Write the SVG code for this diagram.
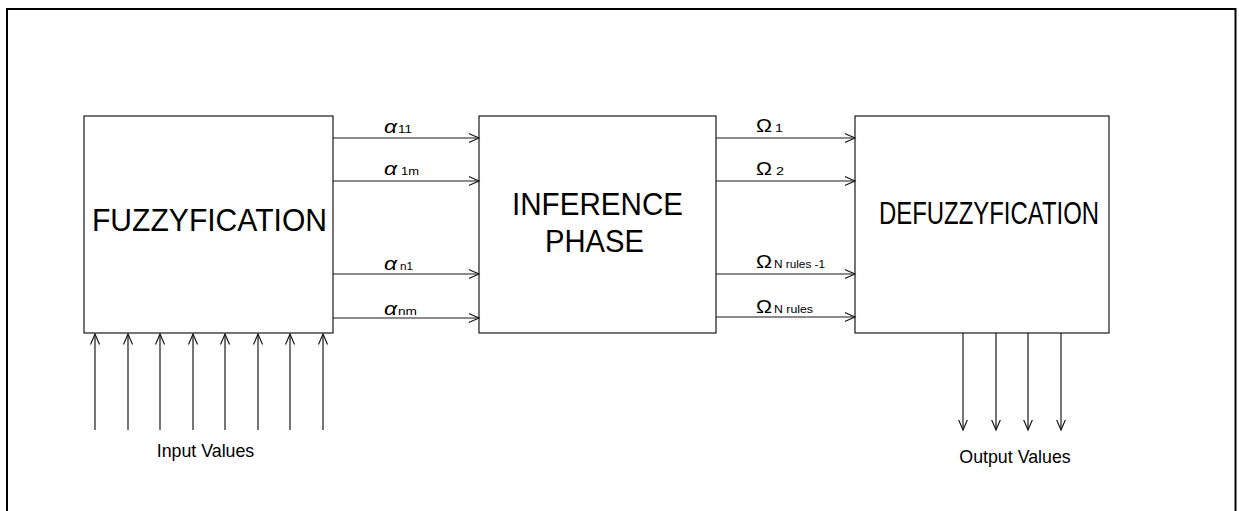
<svg xmlns="http://www.w3.org/2000/svg" width="1239" height="511" viewBox="0 0 1239 511">
<defs>
<style>
.box{fill:#fff;stroke:#1a1a1a;stroke-width:1.2}
.ln{stroke:#1a1a1a;stroke-width:1.2;fill:none}
.big{font-family:"Liberation Sans",Arial,sans-serif;font-size:31px;fill:#000}
.lbl{font-family:"Liberation Sans",Arial,sans-serif;font-size:17.8px;fill:#000}
.sub{font-family:"Liberation Sans",Arial,sans-serif;font-size:11px;fill:#000}
.alpha{font-family:"Liberation Sans",Arial,sans-serif;font-style:italic;font-size:19px;fill:#000}
.omega{font-family:"Liberation Sans",Arial,sans-serif;font-size:17.5px;fill:#000}
</style>
<marker id="ah" markerUnits="userSpaceOnUse" markerWidth="12" markerHeight="11" refX="10.5" refY="4.5" orient="auto" viewBox="0 0 12 9">
<path d="M0,0 L10.5,4.5 L0,9" fill="none" stroke="#1a1a1a" stroke-width="1.2"/>
</marker>
</defs>
<rect x="0" y="0" width="1239" height="511" fill="#fff"/>
<rect x="7" y="9" width="1228.5" height="520" fill="none" stroke="#000" stroke-width="2"/>

<g id="fuzzyfication">
<rect class="box" x="84" y="116" width="249" height="217"/>
<text class="big" x="92" y="231" textLength="235" lengthAdjust="spacingAndGlyphs">FUZZYFICATION</text>
</g>
<g id="inference">
<rect class="box" x="479" y="116" width="237" height="217"/>
<text class="big" x="512" y="215" textLength="171" lengthAdjust="spacingAndGlyphs">INFERENCE</text>
<text class="big" x="545" y="252" textLength="99" lengthAdjust="spacingAndGlyphs">PHASE</text>
</g>
<g id="defuzzyfication">
<rect class="box" x="855" y="116" width="254" height="217"/>
<text class="big" x="879" y="224" font-size="29" textLength="220" lengthAdjust="spacingAndGlyphs">DEFUZZYFICATION</text>
</g>

<g id="connectors">
<line class="ln" x1="333" y1="138" x2="479" y2="138" marker-end="url(#ah)"/>
<line class="ln" x1="333" y1="181" x2="479" y2="181" marker-end="url(#ah)"/>
<line class="ln" x1="333" y1="274" x2="479" y2="274" marker-end="url(#ah)"/>
<line class="ln" x1="333" y1="318" x2="479" y2="318" marker-end="url(#ah)"/>
<line class="ln" x1="716" y1="138" x2="855" y2="138" marker-end="url(#ah)"/>
<line class="ln" x1="716" y1="181" x2="855" y2="181" marker-end="url(#ah)"/>
<line class="ln" x1="716" y1="274" x2="855" y2="274" marker-end="url(#ah)"/>
<line class="ln" x1="716" y1="317" x2="855" y2="317" marker-end="url(#ah)"/>
<line class="ln" x1="95" y1="430" x2="95" y2="334" marker-end="url(#ah)"/>
<line class="ln" x1="128" y1="430" x2="128" y2="334" marker-end="url(#ah)"/>
<line class="ln" x1="160" y1="430" x2="160" y2="334" marker-end="url(#ah)"/>
<line class="ln" x1="193" y1="430" x2="193" y2="334" marker-end="url(#ah)"/>
<line class="ln" x1="225" y1="430" x2="225" y2="334" marker-end="url(#ah)"/>
<line class="ln" x1="258" y1="430" x2="258" y2="334" marker-end="url(#ah)"/>
<line class="ln" x1="290" y1="430" x2="290" y2="334" marker-end="url(#ah)"/>
<line class="ln" x1="323" y1="430" x2="323" y2="334" marker-end="url(#ah)"/>
<line class="ln" x1="963" y1="333" x2="963" y2="430" marker-end="url(#ah)"/>
<line class="ln" x1="996" y1="333" x2="996" y2="430" marker-end="url(#ah)"/>
<line class="ln" x1="1028" y1="333" x2="1028" y2="430" marker-end="url(#ah)"/>
<line class="ln" x1="1061" y1="333" x2="1061" y2="430" marker-end="url(#ah)"/>

<text class="alpha" x="384" y="133" textLength="13" lengthAdjust="spacingAndGlyphs">α</text><text class="sub" x="398" y="133" textLength="14" lengthAdjust="spacingAndGlyphs">11</text>
<text class="alpha" x="384" y="175" textLength="13" lengthAdjust="spacingAndGlyphs">α</text><text class="sub" x="401" y="175" textLength="18" lengthAdjust="spacingAndGlyphs">1m</text>
<text class="alpha" x="384" y="270" textLength="13" lengthAdjust="spacingAndGlyphs">α</text><text class="sub" x="400" y="270" textLength="13" lengthAdjust="spacingAndGlyphs">n1</text>
<text class="alpha" x="384" y="315" textLength="13" lengthAdjust="spacingAndGlyphs">α</text><text class="sub" x="398" y="315" textLength="19" lengthAdjust="spacingAndGlyphs">nm</text>

<text class="omega" x="756" y="132" textLength="16" lengthAdjust="spacingAndGlyphs">Ω</text><text class="sub" x="775" y="132" textLength="8" lengthAdjust="spacingAndGlyphs">1</text>
<text class="omega" x="756" y="175" textLength="16" lengthAdjust="spacingAndGlyphs">Ω</text><text class="sub" x="776" y="175" textLength="8" lengthAdjust="spacingAndGlyphs">2</text>
<text class="omega" x="756" y="268" textLength="16" lengthAdjust="spacingAndGlyphs">Ω</text><text class="sub" x="774" y="268" textLength="51" lengthAdjust="spacingAndGlyphs">N rules -1</text>
<text class="omega" x="756" y="313" textLength="16" lengthAdjust="spacingAndGlyphs">Ω</text><text class="sub" x="774" y="313" textLength="39" lengthAdjust="spacingAndGlyphs">N rules</text>
</g>

<text class="lbl" x="205.5" y="457" text-anchor="middle">Input Values</text>
<text class="lbl" x="1015" y="463" text-anchor="middle">Output Values</text>
</svg>
